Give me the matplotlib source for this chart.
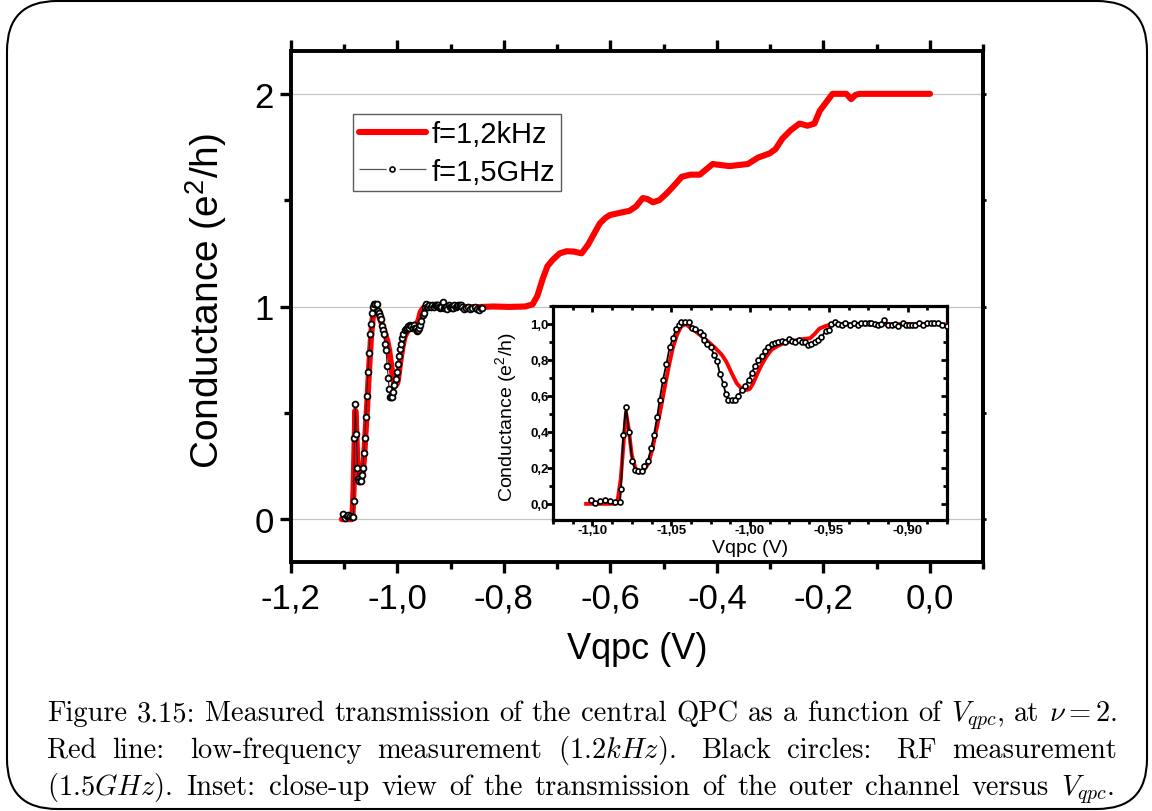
import matplotlib
matplotlib.use("Agg")
import matplotlib.pyplot as plt
from matplotlib.patches import FancyBboxPatch
from matplotlib.transforms import IdentityTransform
from matplotlib.ticker import MultipleLocator, FixedLocator, FuncFormatter
from matplotlib.lines import Line2D

# ---------------- data ----------------
# low-frequency measurement (f = 1.2 kHz), red line
lf_v = [-1.104, -1.094, -1.086, -1.084, -1.082, -1.080, -1.0787, -1.077, -1.075,
        -1.0726, -1.070, -1.0674, -1.0646, -1.062, -1.0597, -1.0568, -1.0543,
        -1.0516, -1.049, -1.0463, -1.0436, -1.0406, -1.038, -1.0347, -1.0305,
        -1.0263, -1.022, -1.018, -1.015, -1.0116, -1.0084, -1.0053, -1.002,
        -1.000, -0.998, -0.9952, -0.9926, -0.9895, -0.9863, -0.982, -0.978,
        -0.9737, -0.9695, -0.965, -0.962, -0.959, -0.956, -0.9526, -0.948,
        -0.942, -0.925, -0.900, -0.875, -0.850, -0.820, -0.790, -0.760, -0.746,
        -0.737, -0.727, -0.718, -0.708, -0.695, -0.682, -0.668, -0.654, -0.642,
        -0.631, -0.620, -0.610, -0.601, -0.583, -0.564, -0.552, -0.539, -0.530,
        -0.520, -0.508, -0.495, -0.480, -0.466, -0.450, -0.432, -0.420, -0.408,
        -0.392, -0.376, -0.360, -0.342, -0.323, -0.301, -0.290, -0.277, -0.261,
        -0.245, -0.237, -0.230, -0.217, -0.207, -0.195, -0.183, -0.170, -0.157,
        -0.148, -0.140, -0.132, -0.100, -0.060, -0.030, 0.000]
lf_g = [0.000, 0.000, 0.000, 0.020, 0.140, 0.360, 0.510, 0.420, 0.270,
        0.195, 0.173, 0.186, 0.223, 0.300, 0.400, 0.520, 0.640,
        0.760, 0.866, 0.940, 0.987, 1.000, 0.980, 0.960, 0.930,
        0.900, 0.866, 0.830, 0.790, 0.726, 0.670, 0.640, 0.633,
        0.640, 0.670, 0.726, 0.773, 0.820, 0.857, 0.880, 0.894,
        0.903, 0.912, 0.918, 0.920, 0.944, 0.974, 0.987, 1.000,
        1.000, 0.998, 1.000, 0.998, 0.997, 1.000, 0.998, 1.000, 1.010,
        1.050, 1.130, 1.190, 1.220, 1.250, 1.260, 1.258, 1.250, 1.290,
        1.340, 1.390, 1.415, 1.430, 1.440, 1.450, 1.470, 1.510, 1.505,
        1.490, 1.500, 1.530, 1.570, 1.610, 1.620, 1.620, 1.645, 1.670,
        1.665, 1.660, 1.665, 1.670, 1.700, 1.720, 1.740, 1.790, 1.830,
        1.860, 1.855, 1.850, 1.860, 1.920, 1.960, 2.000, 2.000, 2.000,
        1.975, 1.995, 2.000, 2.000, 2.000, 2.000, 2.000]

# RF measurement (f = 1.5 GHz), black circles
rf_v = [-1.101, -1.0983, -1.0952, -1.092, -1.0888, -1.0857, -1.0825, -1.0818,
        -1.0805, -1.0787, -1.0768, -1.0747, -1.073, -1.071, -1.0688, -1.067,
        -1.0648, -1.0627, -1.061, -1.059, -1.0573, -1.0552, -1.053, -1.051,
        -1.049, -1.047, -1.0453, -1.0436, -1.041, -1.0385, -1.037, -1.0347,
        -1.032, -1.030, -1.029, -1.027, -1.0248, -1.0227, -1.021, -1.019,
        -1.0168, -1.0154, -1.0137, -1.0116, -1.0095, -1.0074, -1.0053, -1.0032,
        -1.0006, -0.999, -0.9968, -0.9947, -0.9926, -0.9905, -0.9884, -0.9863,
        -0.9842, -0.982, -0.980, -0.9775, -0.9754, -0.9733, -0.9712, -0.969,
        -0.967, -0.965, -0.963, -0.961, -0.959, -0.9568, -0.9547, -0.952,
        -0.950, -0.9484, -0.9463, -0.944, -0.9417, -0.9396, -0.9368, -0.934,
        -0.9316, -0.9295, -0.927, -0.9248, -0.923, -0.921, -0.919, -0.917,
        -0.9147, -0.9126, -0.910, -0.908, -0.906, -0.903, -0.901, -0.899,
        -0.897, -0.895, -0.8926, -0.8905, -0.888, -0.8853, -0.883, -0.8806,
        -0.878, -0.875, -0.871, -0.867, -0.863, -0.859, -0.855, -0.851,
        -0.847, -0.843, -0.840]
rf_g = [0.022, 0.006, 0.013, 0.019, 0.013, 0.009, 0.009, 0.084,
        0.380, 0.540, 0.400, 0.240, 0.190, 0.180, 0.180, 0.210,
        0.240, 0.310, 0.380, 0.480, 0.580, 0.690, 0.780, 0.870,
        0.920, 0.970, 0.996, 1.010, 1.010, 1.010, 0.980, 0.970,
        0.955, 0.940, 0.910, 0.890, 0.870, 0.825, 0.795, 0.720,
        0.665, 0.610, 0.575, 0.575, 0.575, 0.600, 0.633, 0.657,
        0.690, 0.730, 0.765, 0.800, 0.823, 0.850, 0.870, 0.890,
        0.895, 0.900, 0.907, 0.900, 0.915, 0.907, 0.900, 0.912,
        0.900, 0.900, 0.885, 0.888, 0.900, 0.912, 0.930, 0.960,
        0.968, 1.000, 1.010, 1.000, 0.996, 1.005, 0.996, 1.005,
        0.996, 1.005, 1.007, 1.005, 1.007, 1.000, 0.993, 1.000,
        1.020, 0.993, 0.996, 1.000, 0.987, 1.005, 0.996, 0.996,
        0.993, 0.993, 1.005, 0.996, 1.003, 1.005, 1.005, 1.005,
        0.996, 0.987, 0.995, 1.000, 0.990, 0.995, 1.000, 0.990,
        0.985, 0.995, 0.992]

lf_label = "f=1,2kHz"
rf_label = "f=1,5GHz"
main_xticks = [-1.2, -1.0, -0.8, -0.6, -0.4, -0.2, 0.0]
main_yticks = [0, 1, 2]
inset_xticks = [-1.10, -1.05, -1.00, -0.95, -0.90]
inset_yticks = [0.0, 0.2, 0.4, 0.6, 0.8, 1.0]
xlabel = "Vqpc (V)"
ylabel = "Conductance (e$^{\\mathregular{2}}$/h)"

caption_lines = [
    ["Figure", "3.15:", "Measured", "transmission", "of", "the", "central", "QPC",
     "as", "a", "function", "of", r"$V_{qpc}$,", "at", r"$\nu = 2$."],
    ["Red", "line:", "low-frequency", "measurement", r"$(1.2kHz)$.", "Black",
     "circles:", "RF", "measurement"],
    [r"$(1.5GHz)$.", "Inset:", "close-up", "view", "of", "the", "transmission",
     "of", "the", "outer", "channel", "versus", r"$V_{qpc}$."],
]
caption_punct_weight = [1.0, 1.6, 1.2]

# ---------------- figure ----------------
plt.rcParams["font.family"] = ["Liberation Sans", "DejaVu Sans"]
W, H = 1152, 812
fig = plt.figure(figsize=(W / 100, H / 100), dpi=100)
fig.patch.set_facecolor("white")


def fx(px):
    return px / W


def fy(py):
    return 1 - py / H


# main axes
ax = fig.add_axes([fx(290.7), fy(562.7), fx(983.3) - fx(290.7), fy(52.3) - fy(562.7)])
ax.set_xlim(-1.2, 0.1)
ax.set_ylim(-0.2, 2.2)
for s in ax.spines.values():
    s.set_linewidth(2.8)
ax.xaxis.set_major_locator(FixedLocator(main_xticks))
ax.xaxis.set_minor_locator(MultipleLocator(0.1))
ax.yaxis.set_major_locator(FixedLocator(main_yticks))
ax.yaxis.set_minor_locator(MultipleLocator(0.5))


def comma1(v, _):
    if abs(v) < 1e-9:
        return "0,0"
    return f"{v:.1f}".replace(".", ",")


ax.xaxis.set_major_formatter(FuncFormatter(comma1))
ax.yaxis.set_major_formatter(FuncFormatter(lambda v, _: f"{v:.0f}"))
ax.tick_params(which="major", direction="out", length=8, width=2.4,
               top=True, right=False, labelsize=25)
ax.tick_params(which="minor", direction="out", length=5, width=2.4,
               top=True, right=False)
ax.tick_params(axis="x", which="major", pad=6)
ax.tick_params(axis="y", which="major", pad=4)
ax.grid(axis="y", which="major", color="#c4c4c4", lw=0.9)
ax.set_axisbelow(True)

ax.plot(lf_v, lf_g, color="#ff0000", lw=4.4, solid_capstyle="round",
        solid_joinstyle="round", zorder=3)
ax.plot(rf_v, rf_g, color="#222222", lw=0.8, marker="o", ms=4.2, mfc="white",
        mec="black", mew=1.3, zorder=4)

# small outward ticks on the right spine
axr = ax.secondary_yaxis("right")
axr.yaxis.set_major_locator(FixedLocator(main_yticks))
axr.yaxis.set_minor_locator(MultipleLocator(0.5))
axr.tick_params(which="both", direction="out", length=2.5, width=2.0,
                labelright=False)
axr.spines["right"].set_linewidth(2.8)

h1 = Line2D([], [], color="#ff0000", lw=4.4, solid_capstyle="round")
h2 = Line2D([], [], color="#555555", lw=0.9, marker="o", ms=3.6, mfc="white",
            mec="black", mew=1.2, dashes=(21.7, 10.3))
leg = ax.legend([h1, h2], [lf_label, rf_label], loc="upper left",
                bbox_to_anchor=(0.090, 0.877), borderaxespad=0, fontsize=21,
                frameon=True, fancybox=False, handlelength=2.3,
                handletextpad=0.2, borderpad=0.2, labelspacing=0.33,
                numpoints=1)
leg.get_frame().set_edgecolor("#333333")
leg.get_frame().set_linewidth(1.0)

fig.text(fx(206), fy(301), ylabel, rotation=90, ha="center", va="center",
         fontsize=28)
fig.text(fx(637), fy(650), xlabel, ha="center", va="center", fontsize=26)

# inset axes
ax2 = fig.add_axes([fx(553), fy(521), fx(947) - fx(553), fy(307) - fy(521)])
ax2.set_xlim(-1.125, -0.875)
ax2.set_ylim(-0.09, 1.1)
for s in ax2.spines.values():
    s.set_linewidth(2.3)
ax2.xaxis.set_major_locator(FixedLocator(inset_xticks))
ax2.xaxis.set_minor_locator(MultipleLocator(0.0125))
ax2.yaxis.set_major_locator(FixedLocator(inset_yticks))
ax2.yaxis.set_minor_locator(MultipleLocator(0.1))


def comma2(v, _):
    return f"{v:.2f}".replace(".", ",")


ax2.xaxis.set_major_formatter(FuncFormatter(comma2))
ax2.yaxis.set_major_formatter(FuncFormatter(lambda v, _: f"{v:.1f}".replace(".", ",")))
ax2.tick_params(which="major", length=4.5, width=2.0, labelsize=9.5, pad=3)
ax2.tick_params(which="minor", length=3, width=2.0)
ax2.tick_params(which="both", direction="in", top=True, right=True,
                bottom=True, left=True, labelbottom=True, labelleft=True)
# bottom / left ticks point outward, top / right inward
for tick in ax2.xaxis.get_major_ticks() + ax2.xaxis.get_minor_ticks():
    tick.tick1line.set_marker(3)  # TICKDOWN
for tick in ax2.yaxis.get_major_ticks() + ax2.yaxis.get_minor_ticks():
    tick.tick1line.set_marker(0)  # TICKLEFT
for lab in ax2.get_xticklabels() + ax2.get_yticklabels():
    lab.set_fontweight("bold")
    lab.set_fontsize(9.5)

ax2.plot(lf_v, lf_g, color="#ff0000", lw=2.8, solid_joinstyle="round", zorder=3)
ax2.plot(rf_v, rf_g, color="black", lw=1.3, marker="o", ms=3.6, mfc="white",
         mec="black", mew=1.2, zorder=4)
fig.text(fx(750), fy(549), xlabel, ha="center", va="center", fontsize=14)
fig.text(fx(507), fy(417), ylabel, rotation=90, ha="center", va="center",
         fontsize=14)

# rounded frame
frame = FancyBboxPatch((7, 2), 1140, 808, boxstyle="round,pad=0,rounding_size=50",
                       transform=IdentityTransform(), fill=False, lw=1.5,
                       ec="black")
fig.add_artist(frame)

# caption (justified)
fig.canvas.draw()
renderer = fig.canvas.get_renderer()


def word_width(w, size):
    t = fig.text(0, 0, w, fontsize=size, family="cmr10", math_fontfamily="cm")
    wd = t.get_window_extent(renderer).width
    t.remove()
    return wd


x0, x1 = 47, 1117
base = 18
nat = sum(word_width(w, base) for w in caption_lines[0]) + \
    (len(caption_lines[0]) - 1) * 0.333 * base * 100 / 72
cap_size = base * (x1 - x0) / nat
baselines = [721, 758, 795]
right_edges = [1117, 1117, 1114]
for words, yb, xr, pw in zip(caption_lines, baselines, right_edges,
                             caption_punct_weight):
    widths = [word_width(w, cap_size) for w in words]
    weights = []
    for w in words[:-1]:
        if (w.endswith(":") or w.endswith(".")) and w != "3.15:":
            weights.append(pw)
        else:
            weights.append(1.0)
    gap_unit = (xr - x0 - sum(widths)) / sum(weights)
    x = x0
    for i, (w, wd) in enumerate(zip(words, widths)):
        fig.text(fx(x), fy(yb), w, fontsize=cap_size, family="cmr10",
                 math_fontfamily="cm", ha="left", va="baseline")
        if i < len(weights):
            x += wd + gap_unit * weights[i]

fig.savefig("out.png", dpi=100, facecolor="white")
